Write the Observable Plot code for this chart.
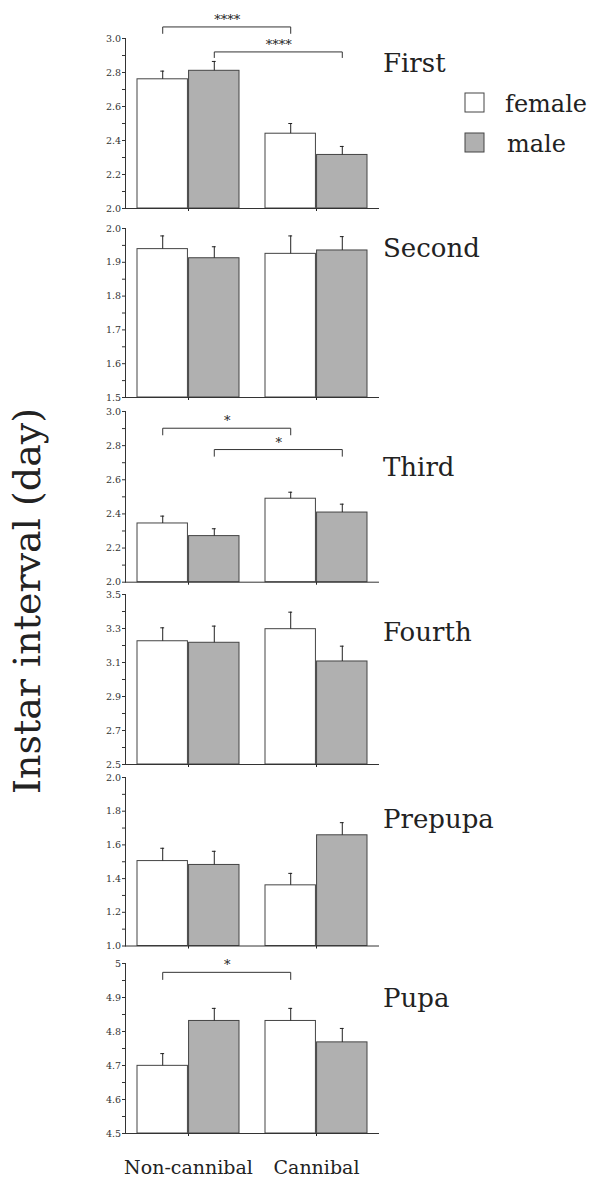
<!DOCTYPE html>
<html>
<head>
<meta charset="utf-8">
<script src="https://cdn.jsdelivr.net/npm/d3@7"></script>
<script src="https://cdn.jsdelivr.net/npm/@observablehq/plot@0.6"></script>
<style>
  body { margin: 0; background: #fff; }
  #chart { position: relative; width: 589px; height: 1177px; overflow: hidden; font-family: "DejaVu Serif", serif; }
  #chart svg { position: absolute; left: 0; }
</style>
</head>
<body>
<div id="chart"></div>
<script>
// ---------- data ----------
const groups = ["Non-cannibal", "Cannibal"];
const sexes = ["female", "male"];
const stages = ["First", "Second", "Third", "Fourth", "Prepupa", "Pupa"];
const yTitle = "Instar interval (day)";

// value order: Non-cannibal female, Non-cannibal male, Cannibal female, Cannibal male
const firstMean = [2.76, 2.81, 2.44, 2.315];
const firstSE = [0.048, 0.055, 0.06, 0.05];
const secondMean = [1.939, 1.912, 1.925, 1.935];
const secondSE = [0.039, 0.034, 0.053, 0.041];
const thirdMean = [2.344, 2.27, 2.489, 2.408];
const thirdSE = [0.043, 0.043, 0.038, 0.049];
const fourthMean = [3.225, 3.216, 3.296, 3.106];
const fourthSE = [0.079, 0.098, 0.10, 0.09];
const prepupaMean = [1.504, 1.481, 1.36, 1.657];
const prepupaSE = [0.076, 0.081, 0.071, 0.075];
const pupaMean = [4.699, 4.831, 4.831, 4.768];
const pupaSE = [0.036, 0.037, 0.037, 0.041];

const firstDomain = [2.0, 3.0];
const secondDomain = [1.5, 2.0];
const thirdDomain = [2.0, 3.0];
const fourthDomain = [2.5, 3.5];
const prepupaDomain = [1.0, 2.0];
const pupaDomain = [4.5, 5.0];

const firstTicks = [2.0, 2.2, 2.4, 2.6, 2.8, 3.0];
const firstTickLabels = ["2.0", "2.2", "2.4", "2.6", "2.8", "3.0"];
const firstMinor = [2.1, 2.3, 2.5, 2.7, 2.9];
const secondTicks = [1.5, 1.6, 1.7, 1.8, 1.9, 2.0];
const secondTickLabels = ["1.5", "1.6", "1.7", "1.8", "1.9", "2.0"];
const secondMinor = [1.55, 1.65, 1.75, 1.85, 1.95];
const thirdTicks = [2.0, 2.2, 2.4, 2.6, 2.8, 3.0];
const thirdTickLabels = ["2.0", "2.2", "2.4", "2.6", "2.8", "3.0"];
const thirdMinor = [2.1, 2.3, 2.5, 2.7, 2.9];
const fourthTicks = [2.5, 2.7, 2.9, 3.1, 3.3, 3.5];
const fourthTickLabels = ["2.5", "2.7", "2.9", "3.1", "3.3", "3.5"];
const fourthMinor = [2.6, 2.8, 3.0, 3.2, 3.4];
const prepupaTicks = [1.0, 1.2, 1.4, 1.6, 1.8, 2.0];
const prepupaTickLabels = ["1.0", "1.2", "1.4", "1.6", "1.8", "2.0"];
const prepupaMinor = [1.1, 1.3, 1.5, 1.7, 1.9];
const pupaTicks = [4.5, 4.6, 4.7, 4.8, 4.9, 5.0];
const pupaTickLabels = ["4.5", "4.6", "4.7", "4.8", "4.9", "5"];
const pupaMinor = [4.55, 4.65, 4.75, 4.85, 4.95];

// significance brackets: from group -> to group, for one sex; top = bracket height, end = foot of bracket
const firstBrackets = [
  {from: "Non-cannibal", to: "Cannibal", sex: "female", top: 3.068, end: 3.03, label: "****"},
  {from: "Non-cannibal", to: "Cannibal", sex: "male", top: 2.921, end: 2.888, label: "****"}
];
const thirdBrackets = [
  {from: "Non-cannibal", to: "Cannibal", sex: "female", top: 2.902, end: 2.863, label: "*"},
  {from: "Non-cannibal", to: "Cannibal", sex: "male", top: 2.777, end: 2.738, label: "*"}
];
const pupaBrackets = [
  {from: "Non-cannibal", to: "Cannibal", sex: "female", top: 4.974, end: 4.953, label: "*"}
];

const panels = [
  {mean: firstMean, se: firstSE, domain: firstDomain, ticks: firstTicks, labels: firstTickLabels, minor: firstMinor, brackets: firstBrackets},
  {mean: secondMean, se: secondSE, domain: secondDomain, ticks: secondTicks, labels: secondTickLabels, minor: secondMinor, brackets: []},
  {mean: thirdMean, se: thirdSE, domain: thirdDomain, ticks: thirdTicks, labels: thirdTickLabels, minor: thirdMinor, brackets: thirdBrackets},
  {mean: fourthMean, se: fourthSE, domain: fourthDomain, ticks: fourthTicks, labels: fourthTickLabels, minor: fourthMinor, brackets: []},
  {mean: prepupaMean, se: prepupaSE, domain: prepupaDomain, ticks: prepupaTicks, labels: prepupaTickLabels, minor: prepupaMinor, brackets: []},
  {mean: pupaMean, se: pupaSE, domain: pupaDomain, ticks: pupaTicks, labels: pupaTickLabels, minor: pupaMinor, brackets: pupaBrackets}
];

// ---------- layout (pixels) ----------
const W = 589, H = 1177, ML = 125, MR = 589 - 379;
const panelTop = [38.3, 228.3, 411, 594, 776.5, 963.3];
const panelH = [170, 169, 170.7, 170, 168.5, 170];
const stageBaseline = [72, 257, 476, 641, 828, 1007];
const padIn = 0.2, padOut = 0.085;
const band = d3.scaleBand().domain(groups).range([ML, W - MR]).paddingInner(padIn).paddingOuter(padOut);
const bw = band.bandwidth(), step = band.step();
const shift = {female: -bw / 4, male: bw / 4};
const fillOf = {female: "#ffffff", male: "#b0b0b0"};

const chart = document.getElementById("chart");

panels.forEach((p, k) => {
  const rows = [];
  groups.forEach((g, gi) => sexes.forEach((s, si) => {
    const j = gi * 2 + si;
    rows.push({group: g, sex: s, mean: p.mean[j], se: p.se[j]});
  }));
  const last = k === panels.length - 1;
  const mt = 40, mb = last ? 52 : 10;
  const labelMap = new Map(p.ticks.map((t, i) => [t, p.labels[i]]));
  const marks = [];
  for (const s of sexes) {
    const r = rows.filter(d => d.sex === s);
    marks.push(Plot.barY(r, {
      x: "group", y1: p.domain[0], y2: "mean",
      fill: fillOf[s], stroke: "#444", strokeWidth: 1,
      insetLeft: s === "female" ? 0 : bw / 2,
      insetRight: s === "female" ? bw / 2 : 0
    }));
    marks.push(Plot.ruleX(r, {x: "group", y1: "mean", y2: d => d.mean + d.se, dx: shift[s], stroke: "#222", strokeWidth: 1}));
    marks.push(Plot.tickY(r, {x: "group", y: d => d.mean + d.se, dx: shift[s], insetLeft: (bw - 5) / 2, insetRight: (bw - 5) / 2, stroke: "#222", strokeWidth: 1}));
  }
  for (const b of p.brackets) {
    const pts = [{x: b.from, y: b.end}, {x: b.from, y: b.top}, {x: b.to, y: b.top}, {x: b.to, y: b.end}];
    marks.push(Plot.line(pts, {x: "x", y: "y", dx: shift[b.sex], stroke: "#333", strokeWidth: 1}));
    marks.push(Plot.text([b], {x: "from", y: "top", text: "label", dx: shift[b.sex] + step / 2, dy: -3, lineAnchor: "bottom", fontSize: 13, fill: "#222"}));
  }
  marks.push(Plot.axisY({ticks: p.minor, tickFormat: () => "", tickSize: 3, label: null, color: "#333"}));
  marks.push(Plot.axisY({ticks: p.ticks, tickFormat: d => labelMap.get(d), tickSize: 3, tickPadding: 1.5, label: null, color: "#333"}));
  marks.push(Plot.axisX({tickSize: 3, tickPadding: 24, tickFormat: last ? (d => d) : (() => ""), label: null, fontSize: 19, color: "#222"}));
  marks.push(Plot.frame({anchor: "left", stroke: "#333"}));
  marks.push(Plot.ruleY([p.domain[0]], {stroke: "#333", strokeWidth: 1}));

  const svg = Plot.plot({
    width: W,
    height: mt + panelH[k] + mb,
    marginLeft: ML, marginRight: MR, marginTop: mt, marginBottom: mb,
    x: {type: "band", domain: groups, paddingInner: padIn, paddingOuter: padOut, align: 0.5},
    y: {domain: p.domain},
    style: {background: "transparent", overflow: "visible", fontFamily: "DejaVu Serif", fontSize: "9.5px", color: "#222"},
    marks
  });
  svg.style.position = "absolute";
  svg.style.top = (panelTop[k] - mt) + "px";
  svg.style.left = "0px";
  chart.appendChild(svg);
});

// ---------- overlay text: y title, stage names, legend ----------
const ov = d3.create("svg").attr("width", W).attr("height", H)
  .style("position", "absolute").style("top", "0px").style("left", "0px")
  .attr("font-family", "DejaVu Serif").attr("fill", "#222");

ov.append("text").attr("transform", "translate(40,601) rotate(-90)")
  .attr("text-anchor", "middle").attr("font-size", 38).text(yTitle);

stages.forEach((s, k) => {
  ov.append("text").attr("x", 383).attr("y", stageBaseline[k]).attr("font-size", 26).text(s);
});

const legendY = [93, 133];
sexes.forEach((s, i) => {
  ov.append("rect").attr("x", 465).attr("y", legendY[i]).attr("width", 19).attr("height", 19)
    .attr("fill", fillOf[s]).attr("stroke", "#444").attr("stroke-width", 1);
  ov.append("text").attr("x", i === 0 ? 505 : 507).attr("y", legendY[i] + 19).attr("font-size", 24).text(s);
});
chart.appendChild(ov.node());
</script>
</body>
</html>
